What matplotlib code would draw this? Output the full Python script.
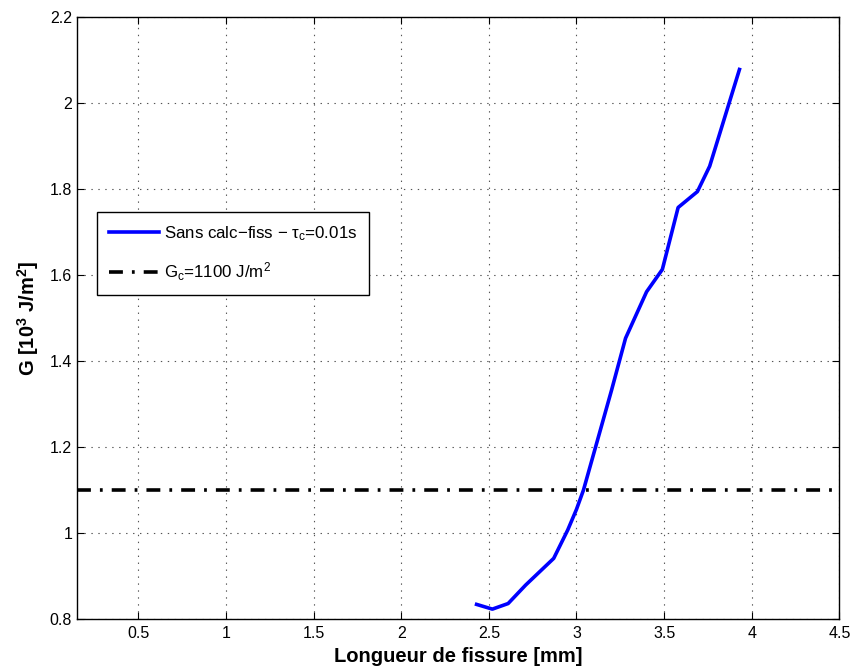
import numpy as np
import matplotlib
matplotlib.use("Agg")
from matplotlib import pyplot as plt

plt.rcParams['font.family'] = ['Liberation Sans', 'DejaVu Sans']
plt.rcParams['mathtext.fontset'] = 'custom'
plt.rcParams['mathtext.rm'] = 'Liberation Sans'
plt.rcParams['mathtext.it'] = 'Liberation Sans:italic'
plt.rcParams['mathtext.bf'] = 'Liberation Sans:bold'
plt.rcParams['lines.scale_dashes'] = False

# crack length [mm] and G [10^3 J/m^2]
longueur = [2.43, 2.52, 2.61, 2.71, 2.87, 2.95, 3.00, 3.04, 3.12, 3.20, 3.28, 3.40, 3.49, 3.58, 3.69, 3.76, 3.93]
G = [0.834, 0.823, 0.836, 0.879, 0.941, 1.007, 1.055, 1.10, 1.216, 1.332, 1.453, 1.561, 1.613, 1.757, 1.794, 1.853, 2.078]
Gc = 1.1

xticks = [0.5, 1, 1.5, 2, 2.5, 3, 3.5, 4, 4.5]
yticks = [0.8, 1, 1.2, 1.4, 1.6, 1.8, 2, 2.2]

fig = plt.figure(figsize=(8.53, 6.7), dpi=100)
ax = fig.add_axes([0.0903, 0.0761, 0.8937, 0.8985])

ax.plot(longueur, G, color='#0000ff', lw=2.6,
        label='Sans calc$-$fiss $-$ $\\mathregular{\\tau_c}$=0.01s')
ax.axhline(Gc, color='black', lw=2.6, dashes=(10, 6.5, 2, 6.5),
           label='G$_\\mathregular{c}$=1100 J/m$^\\mathregular{2}$')

ax.set_xlim(0.15, 4.5)
ax.set_ylim(0.8, 2.2)
ax.set_xticks(xticks)
ax.set_xticklabels(['0.5', '1', '1.5', '2', '2.5', '3', '3.5', '4', '4.5'])
ax.set_yticks(yticks)
ax.set_yticklabels(['0.8', '1', '1.2', '1.4', '1.6', '1.8', '2', '2.2'])
ax.tick_params(direction='in', top=True, right=True, labelsize=11.5, length=5, width=0.8)
ax.tick_params(axis='x', pad=5)
ax.grid(True, linestyle=(0, (1, 4)), color='#555555', lw=0.8)
for s in ax.spines.values():
    s.set_linewidth(1.0)

ax.set_xlabel('Longueur de fissure [mm]', fontsize=14.5, fontweight='bold', labelpad=4)
ax.set_ylabel('G [$\\mathbf{10^3}$ J/m$\\mathbf{^2}$]', fontsize=14.5, fontweight='bold', labelpad=6)

leg = ax.legend(loc='upper left', bbox_to_anchor=(0.0258, 0.6756), borderaxespad=0,
                fontsize=12.2, handlelength=2.95, handletextpad=0.3, labelspacing=1.05,
                borderpad=0.7, fancybox=False, framealpha=1, edgecolor='black')
leg.get_frame().set_linewidth(1.0)

fig.savefig('out.png', dpi=100)
